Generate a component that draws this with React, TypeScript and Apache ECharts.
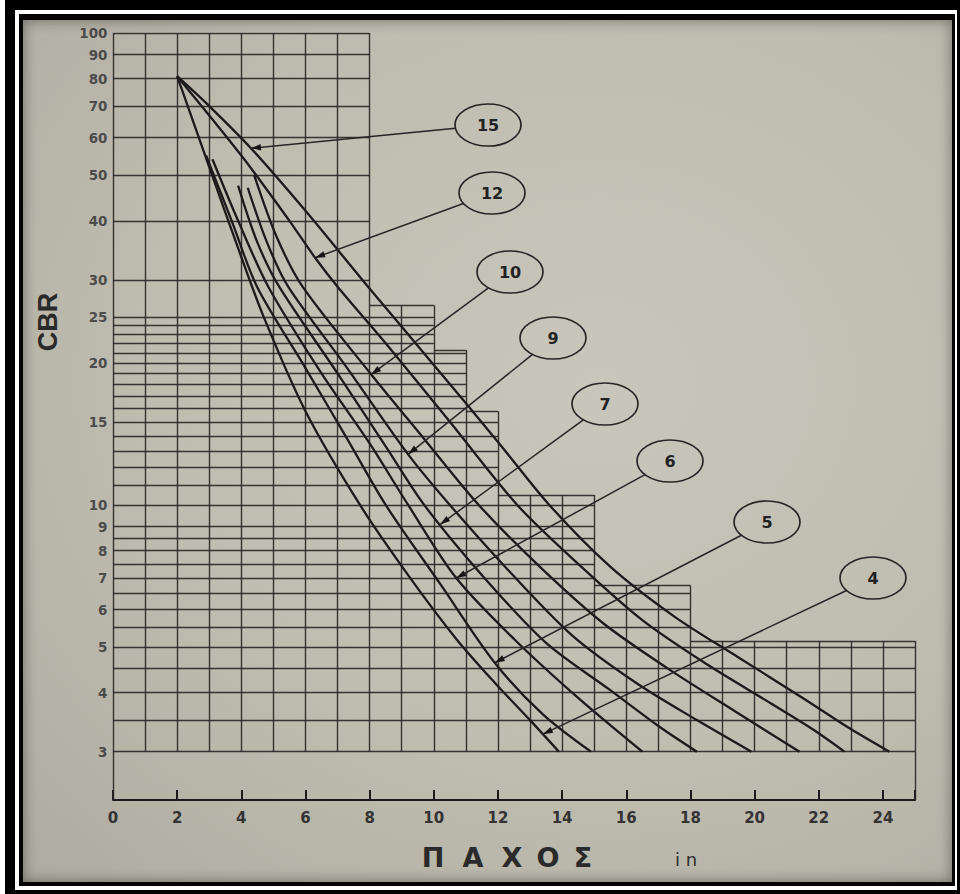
import { useEffect, useRef } from "react";
import * as echarts from "echarts";

// ---------- data ----------
const yTickLabels = [3, 4, 5, 6, 7, 8, 9, 10, 15, 20, 25, 30, 40, 50, 60, 70, 80, 90, 100];
const xTickInterval = 2;

// stepped outline of the printed grid (x from, x to, top CBR)
const stepX0 = [0, 8, 10, 11, 12, 15, 18];
const stepX1 = [8, 10, 11, 12, 15, 18, 25];
const stepTop = [100, 26.5, 21.3, 15.8, 10.5, 6.75, 5.15];

const upperRows = [100, 90, 80, 70, 60, 50, 40, 30];
const middleRows = [25, 24, 23, 22, 21, 20, 19, 18, 17, 16, 15, 14, 13, 12, 11, 10];
const lowerRows = [9, 8.5, 8, 7.5, 7, 6.5, 6, 5.5, 5, 4.5, 4, 3.5, 3];
const gridColumns = [0, 1, 2, 3, 4, 5, 6, 7, 8, 9, 10, 11, 12, 13, 14, 15, 16, 17, 18, 19, 20, 21, 22, 23, 24, 25];

const curveNames = ["15", "12", "10", "9", "7", "6", "5", "4"];
const curve15 = [[2, 81], [3, 70], [4.3, 57], [6, 42], [7.95, 29], [10, 19.8], [12, 13.6], [13.6, 10], [15.5, 7.4], [17.5, 5.8], [19.5, 4.75], [21.5, 3.9], [23, 3.35], [24.2, 3]];
const curve12 = [[2, 81], [4, 55], [5.5, 40], [6.3, 33.4], [7, 29], [8.5, 22], [10.5, 15], [12.6, 10], [14.5, 7.5], [16.5, 5.7], [18.5, 4.6], [20.5, 3.8], [21.8, 3.35], [22.8, 3]];
const curve10 = [[4.4, 50], [5.1, 37], [5.91, 29], [8.05, 18.9], [9.7, 13.8], [11.4, 10], [13.3, 7.4], [15.3, 5.6], [17.3, 4.5], [19.4, 3.65], [21.4, 3]];
const curve9 = [[4.2, 47], [4.8, 36], [5.46, 29], [7.3, 19.5], [9.2, 12.8], [10.5, 10], [12.3, 7.3], [14.3, 5.3], [16.3, 4.2], [18.2, 3.5], [19.9, 3]];
const curve7 = [[3.9, 47.5], [4.5, 36], [5.18, 29], [7, 19], [8.5, 13.3], [9.7, 10], [11.5, 7.1], [13.5, 5.1], [15.5, 4.05], [17, 3.4], [18.2, 3]];
const curve6 = [[3.1, 54], [3.9, 40], [4.84, 29], [6.5, 19], [8, 13.5], [9.2, 10], [10.7, 7.0], [12.5, 5.2], [14.5, 3.9], [16.5, 3]];
const curve5 = [[2.9, 55], [3.7, 40], [4.49, 29], [6, 19.5], [7.3, 13.8], [8.5, 10], [10.2, 6.8], [11.9, 4.63], [13.4, 3.6], [14.9, 3]];
const curve4 = [[2, 81], [3, 52], [3.9, 35], [4.7, 25], [6, 15.8], [7.7, 10], [9.2, 7.1], [10.7, 5.2], [11.9, 4.2], [13, 3.5], [13.9, 3]];
const curves = [curve15, curve12, curve10, curve9, curve7, curve6, curve5, curve4];

// where each leader arrow touches its curve (thickness, in)
const tipX = [4.3, 6.3, 8.05, 9.2, 10.2, 10.7, 11.9, 13.4];

// ---------- layout (pixels) ----------
const GRID_LEFT = 113;
const GRID_RIGHT_PX = 915;
const GRID_TOP = 33;
const AXIS_Y = 800;
const Y_MIN = 2.37;
const labelCx = [488, 492, 510, 553, 605, 670, 767, 873];
const labelCy = [125, 193, 272, 338, 404, 461, 522, 578];
const RX = 33;
const RY = 21;

const INK = "#1b1b1b";

function valueAt(curve: number[][], x: number) {
  for (let i = 0; i < curve.length - 1; i++) {
    const [x0, y0] = curve[i];
    const [x1, y1] = curve[i + 1];
    if (x >= x0 && x <= x1) {
      const t = (x - x0) / (x1 - x0);
      return Math.pow(10, Math.log10(y0) + t * (Math.log10(y1) - Math.log10(y0)));
    }
  }
  return curve[curve.length - 1][1];
}

function buildGridSegments() {
  const segs: any[] = [];
  const rows = [...upperRows, ...middleRows, ...lowerRows];
  rows.forEach((v) => {
    let end = 0;
    for (let i = 0; i < stepTop.length; i++) if (stepTop[i] >= v - 1e-9) end = stepX1[i];
    segs.push({ coords: [[0, v], [end, v]] });
  });
  for (let i = 1; i < stepTop.length; i++) {
    segs.push({ coords: [[stepX0[i], stepTop[i]], [stepX1[i], stepTop[i]]] });
  }
  const lastX = gridColumns[gridColumns.length - 1];
  gridColumns.forEach((x) => {
    let top = 0;
    for (let i = 0; i < stepTop.length; i++) {
      if (stepX0[i] <= x && x <= stepX1[i]) top = Math.max(top, stepTop[i]);
    }
    const bottom = x === 0 || x === lastX ? Y_MIN : 3;
    segs.push({ coords: [[x, bottom], [x, top]] });
  });
  return segs;
}

export default function App() {
  const ref = useRef<HTMLDivElement>(null);

  useEffect(() => {
    if (!ref.current) return;
    const chart = echarts.init(ref.current, null, { renderer: "svg" });
    const option: any = {
      animation: false,
      backgroundColor: "transparent",
      grid: { left: GRID_LEFT, right: 960 - GRID_RIGHT_PX, top: GRID_TOP, bottom: 894 - AXIS_Y, containLabel: false },
      xAxis: {
        type: "value",
        min: 0,
        max: 25,
        interval: xTickInterval,
        axisLine: { show: true, lineStyle: { color: INK, width: 2 } },
        axisTick: { show: true, inside: true, length: 10, lineStyle: { color: INK, width: 2 } },
        axisLabel: {
          color: "#333",
          fontSize: 15,
          fontWeight: "bold",
          fontFamily: "DejaVu Sans",
          margin: 10,
          formatter: (v: number) => (v % 2 === 0 ? String(v) : ""),
        },
        splitLine: { show: false },
      },
      yAxis: {
        type: "log",
        logBase: 10,
        min: Y_MIN,
        max: 100,
        axisLine: { show: false },
        axisTick: { show: false },
        axisLabel: { show: false },
        splitLine: { show: false },
      },
      series: [
        {
          type: "lines",
          coordinateSystem: "cartesian2d",
          silent: true,
          z: 1,
          lineStyle: { color: "#262626", width: 1.4, opacity: 0.9 },
          data: buildGridSegments(),
        },
        {
          type: "scatter",
          silent: true,
          symbolSize: 1,
          itemStyle: { color: "transparent" },
          label: {
            show: true,
            position: "left",
            distance: 5,
            color: "#2e2e2e",
            fontSize: 13.5,
            fontWeight: "bold",
            fontFamily: "DejaVu Sans",
            formatter: (p: any) => String(p.value[1]),
          },
          data: yTickLabels.map((v) => [0, v]),
          z: 2,
        },
        ...curves.map((c, i) => ({
          type: "line",
          name: curveNames[i],
          data: c,
          smooth: 0.3,
          symbol: "none",
          silent: true,
          z: 3,
          lineStyle: { color: INK, width: 2.3 },
        })),
      ],
    };
    chart.setOption(option);

    const graphic: any[] = [];
    curves.forEach((c, i) => {
      const tx = tipX[i];
      const ty = valueAt(c, tx);
      const p = chart.convertToPixel({ xAxisIndex: 0, yAxisIndex: 0 }, [tx, ty]) as number[];
      const cx = labelCx[i];
      const cy = labelCy[i];
      const dx = p[0] - cx;
      const dy = p[1] - cy;
      const t = 1 / Math.sqrt((dx / RX) ** 2 + (dy / RY) ** 2);
      const sx = cx + dx * t;
      const sy = cy + dy * t;
      const len = Math.hypot(p[0] - sx, p[1] - sy);
      const ux = (p[0] - sx) / len;
      const uy = (p[1] - sy) / len;
      graphic.push({
        type: "line",
        shape: { x1: sx, y1: sy, x2: p[0], y2: p[1] },
        style: { stroke: "#262626", lineWidth: 1.5 },
        z: 10,
      });
      const al = 10;
      const aw = 3.2;
      const bx = p[0] - ux * al;
      const by = p[1] - uy * al;
      graphic.push({
        type: "polygon",
        shape: { points: [[p[0], p[1]], [bx - uy * aw, by + ux * aw], [bx + uy * aw, by - ux * aw]] },
        style: { fill: "#151515" },
        z: 11,
      });
      graphic.push({
        type: "ellipse",
        shape: { cx, cy, rx: RX, ry: RY },
        style: { fill: "rgba(0,0,0,0)", stroke: "#262626", lineWidth: 1.7 },
        z: 10,
      });
      graphic.push({
        type: "text",
        x: cx,
        y: cy,
        style: {
          text: curveNames[i],
          font: 'bold 16px "DejaVu Sans"',
          fill: "#222",
          align: "center",
          verticalAlign: "middle",
        },
        z: 12,
      });
    });
    graphic.push({
      type: "text",
      x: 48,
      y: 322,
      rotation: Math.PI / 2,
      style: { text: "CBR", font: 'bold 27px "Liberation Sans"', fill: "#2a2a2a", align: "center", verticalAlign: "middle" },
    });
    const letters = ["Π", "Α", "Χ", "Ο", "Σ"];
    const letterX = [433, 473, 512, 548, 583];
    letters.forEach((ch, i) => {
      graphic.push({
        type: "text",
        x: letterX[i],
        y: 857,
        style: { text: ch, font: 'bold 27px "DejaVu Sans"', fill: "#2a2a2a", align: "center", verticalAlign: "middle" },
      });
    });
    graphic.push({
      type: "text",
      x: 686,
      y: 859,
      style: { text: "i n", font: '18px "DejaVu Sans"', fill: "#2e2e2e", align: "center", verticalAlign: "middle" },
    });
    chart.setOption({ graphic });

    return () => chart.dispose();
  }, []);

  return (
    <div style={{ position: "absolute", left: 0, top: 0, width: 960, height: 894, background: "#fff", overflow: "hidden" }}>
      <div
        style={{
          position: "absolute",
          left: 5,
          top: 0,
          width: 955,
          height: 894,
          boxSizing: "border-box",
          borderStyle: "solid",
          borderColor: "#000",
          borderWidth: "10px 3px 4px 10px",
          background: "#fff",
          padding: "4px 2px 4px 4px",
        }}
      >
        <div
          style={{
            width: "100%",
            height: "100%",
            boxSizing: "border-box",
            borderStyle: "solid",
            borderColor: "#050505",
            borderWidth: "6px 3px 4px 4px",
            background: "radial-gradient(ellipse at 62% 42%, #c9c6bb 0%, #bfbcb0 55%, #aeaba0 100%)",
            boxShadow: "inset 0 0 14px rgba(0,0,0,0.4)",
          }}
        />
      </div>
      <div ref={ref} style={{ position: "absolute", left: 0, top: 0, width: 960, height: 894 }} />
    </div>
  );
}
